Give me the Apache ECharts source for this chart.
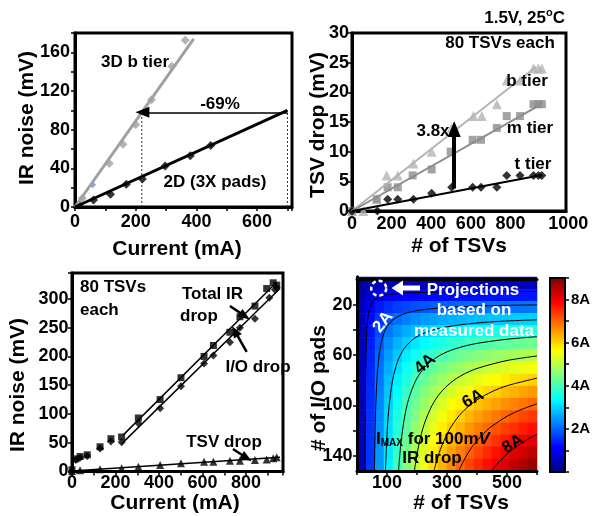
<!DOCTYPE html>
<html><head><meta charset="utf-8">
<script src="https://cdn.jsdelivr.net/npm/echarts@6/dist/echarts.min.js"></script>
<style>html,body{margin:0;padding:0;background:#fff}#c{width:604px;height:516px}</style>
</head><body><div id="c"></div>
<script>
// ---------- Panel 1: IR noise vs current ----------
const p1Pts3D = [[24,9],[113,45],[158,65],[200,85],[252,111],[319,145.5],[363,172.5]];
const p1PtBlue = [[58,23]];
const p1Pts2D = [[13,2],[61,7.3],[117,13.1],[169,23.5],[222,29],[297,42.5],[380,53],[447,63.6]];
const p1Fit3D = [[0,0],[391,174]];
const p1Fit2D = [[0,0],[700,100]];
const p1GuideA = [[220,0],[220,98]];
const p1GuideB = [[700,0],[700,100]];
const p1Arrow = [[700,98],[222,98]];
const p1XLabels = [0,200,400,600];
const p1YLabels = [0,40,80,120,160];

// ---------- Panel 2: TSV drop vs # of TSVs ----------
const p2B = [[0,0],[57,0],[125,2],[175,6],[231,6],[310,8],[402,10],[503,14],[613,16],[655,16],[731,18],[781,22],[848,22],[916,24],[941,24],[958,24]];
const p2M = [[0,0],[125,2],[180,4],[231,4],[306,6],[402,7],[498,10],[609,12],[651,12],[731,14],[781,16],[848,16],[916,18],[941,18],[958,18]];
const p2T = [[0,0],[128,0],[180,2],[231,2],[310,2],[402,3],[503,4],[609,4],[651,4],[731,4],[781,6],[848,6],[916,6],[941,6],[958,6]];
const p2FitB = [[0,0],[930,24.3]];
const p2FitM = [[0,0],[945,17.8]];
const p2FitT = [[0,0],[945,6]];
const p2Arrow = [[516,3.8],[516,13.8]];
const p2XLabels = [0,200,400,600,800,1000];

// ---------- Panel 3: IR noise components vs current ----------
const p3Total = [[0,3],[18,22],[37,26],[70,29],[129,43],[179,57],[228,60],[305,93],[405,125],[501,163],[607,200],[650,219],[726,242],[772,269],[841,287.5],[895,318],[925,328],[941,324]];
const p3IO = [[0,1],[18,20],[37,24],[70,27],[129,40],[179,52],[228,51],[305,84],[405,110],[501,148],[607,187.5],[650,201.5],[726,224.7],[772,250],[841,265.5],[907,302],[933,316],[941,320]];
const p3TSV = [[0,1],[37,2],[129,3.8],[228,5.5],[305,8.4],[405,11.3],[501,14.2],[607,17],[650,17],[726,18.9],[772,18.9],[841,20],[895,21],[925,23],[941,24.7]];
const p3FitTotal = [[236,63.7],[941,329]];
const p3FitIO = [[228,48],[956,318]];
const p3FitTSV = [[0,1],[956,24.7]];
const p3ArrowTotal = [[726,287.6],[795,270]];
const p3ArrowIO = [[803,208],[749,244]];
const p3ArrowTSV = [[740,39],[803,23.5]];

// ---------- Panel 4: I_MAX map (A) over # of TSVs x # of I/O pads ----------
const tsvCenters = [15,45,75,105,135,165,195,225,255,285,315,345,375,405,435,465,495,525,555,585];
const padCenters = [3,12,22,32,41,51,61,70,80,89,99,109,118,128,138,147];
const currentGrid = [
[0.29,0.42,0.47,0.49,0.50,0.51,0.52,0.52,0.52,0.53,0.53,0.53,0.53,0.53,0.54,0.54,0.54,0.54,0.54,0.54],
[0.42,0.78,0.94,1.03,1.09,1.13,1.16,1.18,1.20,1.22,1.23,1.24,1.25,1.26,1.26,1.27,1.28,1.28,1.28,1.29],
[0.48,1.03,1.33,1.52,1.66,1.76,1.83,1.89,1.94,1.98,2.01,2.04,2.06,2.08,2.10,2.12,2.13,2.15,2.16,2.17],
[0.51,1.18,1.59,1.88,2.09,2.24,2.37,2.47,2.55,2.62,2.68,2.73,2.77,2.81,2.84,2.88,2.90,2.93,2.95,2.97],
[0.53,1.28,1.78,2.15,2.42,2.64,2.81,2.95,3.07,3.17,3.25,3.33,3.39,3.45,3.50,3.55,3.59,3.63,3.66,3.70],
[0.54,1.35,1.92,2.35,2.69,2.96,3.18,3.36,3.51,3.64,3.76,3.86,3.95,4.03,4.10,4.16,4.22,4.27,4.32,4.36],
[0.55,1.40,2.03,2.52,2.91,3.22,3.49,3.71,3.90,4.06,4.20,4.33,4.44,4.54,4.63,4.71,4.78,4.85,4.91,4.97],
[0.55,1.44,2.12,2.66,3.09,3.45,3.75,4.01,4.23,4.43,4.60,4.75,4.88,5.00,5.11,5.21,5.30,5.38,5.46,5.53],
[0.56,1.47,2.19,2.77,3.25,3.65,3.98,4.28,4.53,4.75,4.95,5.12,5.28,5.42,5.55,5.66,5.77,5.87,5.96,6.04],
[0.56,1.50,2.25,2.87,3.38,3.82,4.19,4.51,4.79,5.04,5.26,5.46,5.64,5.80,5.95,6.08,6.21,6.32,6.43,6.52],
[0.57,1.52,2.30,2.95,3.50,3.96,4.36,4.72,5.03,5.30,5.55,5.77,5.97,6.15,6.31,6.46,6.61,6.73,6.85,6.96],
[0.57,1.54,2.35,3.02,3.60,4.09,4.52,4.90,5.24,5.54,5.81,6.05,6.27,6.47,6.65,6.82,6.98,7.12,7.26,7.38],
[0.57,1.56,2.38,3.08,3.69,4.21,4.67,5.07,5.43,5.75,6.04,6.31,6.54,6.77,6.96,7.15,7.32,7.48,7.63,7.76],
[0.57,1.57,2.42,3.14,3.77,4.31,4.80,5.22,5.61,5.95,6.26,6.54,6.80,7.04,7.26,7.46,7.65,7.82,7.98,8.13],
[0.57,1.58,2.45,3.19,3.84,4.41,4.91,5.36,5.77,6.13,6.46,6.76,7.04,7.29,7.52,7.74,7.94,8.13,8.31,8.47],
[0.58,1.60,2.47,3.23,3.90,4.49,5.02,5.49,5.91,6.30,6.64,6.96,7.26,7.53,7.78,8.01,8.22,8.42,8.61,8.79]
];
const contour1A = [[26.9,152],[27.8,100],[29.8,60],[32.7,40],[36.2,30],[39.7,25],[46.3,20],[54.2,17],[64.1,15],[83.9,13],[104,12],[150,10.9],[200,10.4],[300,9.9],[400,9.7],[600,9.5]];
const contour2A = [[58,152],[62.5,100],[69.2,70],[80.6,50],[94.3,40],[107.3,35],[131.6,30],[159.6,27],[200,24.7],[250,23.1],[300,22.1],[400,21.1],[500,20.5],[600,20.1]];
const contour3A = [[94.7,152],[100.7,120],[107.2,100],[118.6,80],[135.3,65],[156.5,55],[184.1,48],[210.4,44],[250,40.3],[300,37.5],[400,34.5],[500,32.9],[600,32]];
const contour4A = [[138.3,152],[146.4,130],[158,110],[172.1,95],[196.1,80],[224.4,70],[257.5,63],[300,57.4],[350,53.4],[400,50.7],[500,47.4],[600,45.4]];
const contour5A = [[191.1,152],[207,130],[223.8,115],[250,100],[277.8,90],[311.7,82],[350,75.9],[400,70.6],[500,64.3],[600,60.7]];
const contour6A = [[256.4,152],[277.8,135],[306,120],[340.6,108],[374.8,100],[400,95.5],[450,89],[500,84.3],[600,78.3]];
const contour7A = [[339.2,152],[364.4,140],[392.5,130],[431.8,120],[450,116.4],[500,108.6],[550,103],[600,98.7]];
const contour8A = [[448,152],[472.6,145],[502,138],[520,134.5],[550,129.5],[600,122.8]];
const contours = [contour1A,contour2A,contour3A,contour4A,contour5A,contour6A,contour7A,contour8A];
const padTicks = [20,40,60,80,100,120,140];
const padLabels = [20,60,100,140];
const colorbarLabels = [2,4,6,8];
const jet = ['#000080','#0000ff','#0080ff','#00ffff','#80ff80','#ffff00','#ff8000','#ff0000','#800000'];

// ---------- helpers ----------
const FONT = '"Liberation Sans", Arial, Helvetica, sans-serif';
function merge(a, b) {
  const o = Object.assign({}, a);
  for (const k in b) {
    if (b[k] && typeof b[k] === 'object' && !Array.isArray(b[k]) && a[k] && typeof a[k] === 'object') o[k] = merge(a[k], b[k]);
    else o[k] = b[k];
  }
  return o;
}
const baseAxis = {
  type: 'value',
  axisLine: {show: true, onZero: false, lineStyle: {color: '#000', width: 3}},
  axisTick: {show: true, inside: false, length: 4, lineStyle: {color: '#000', width: 1.5}},
  splitLine: {show: false},
  axisLabel: {color: '#000', fontFamily: FONT, fontWeight: 'bold', fontSize: 18}
};
const ax = (extra) => merge(baseAxis, extra);
const hiddenAxis = (extra) => Object.assign({type: 'value', show: false}, extra);
const frameAxis = (extra) => Object.assign({type: 'value', min: 0, max: 1, z: 10,
  axisLine: {show: true, lineStyle: {color: '#000', width: 3}}, axisTick: {show: false},
  axisLabel: {show: false}, splitLine: {show: false}}, extra);
const inList = (list) => (v) => list.indexOf(v) >= 0 ? String(v) : '';

function lineS(data, xi, color, width, extra) {
  return Object.assign({type: 'line', xAxisIndex: xi, yAxisIndex: xi, data: data, symbol: 'none',
    silent: true, animation: false, lineStyle: {color: color, width: width}}, extra || {});
}
function scatS(data, xi, symbol, size, color) {
  return {type: 'scatter', xAxisIndex: xi, yAxisIndex: xi, data: data, symbol: symbol, symbolSize: size,
    silent: true, animation: false, itemStyle: {color: color}};
}
function arrowML(pairs, width, size) {
  return {silent: true, animation: false, symbol: ['none', 'triangle'], symbolSize: size,
    label: {show: false}, lineStyle: {color: '#000', width: width, type: 'solid'},
    data: pairs.map(p => [{coord: p[0]}, {coord: p[1]}])};
}

const heatData = [];
currentGrid.forEach((row, r) => row.forEach((v, c) => heatData.push([c, r, v])));

// ---------- option ----------
const grids = [
  {left: 75, top: 33, width: 217, height: 174},
  {left: 352, top: 33, width: 214, height: 178},
  {left: 72, top: 273, width: 211, height: 198.5},
  {left: 357, top: 277, width: 180, height: 194},
  {left: 357, top: 277, width: 180, height: 194},
  {left: 550, top: 278, width: 15, height: 194}
].map((g, i) => Object.assign({outerBoundsMode: 'none', containLabel: false,
  show: i < 3, borderColor: '#000', borderWidth: 3, backgroundColor: 'transparent'}, g));

const xAxes = [
  ax({gridIndex: 0, min: 0, max: 715, interval: 100, axisLabel: {margin: 6, formatter: inList(p1XLabels)}}),
  ax({gridIndex: 1, min: 0, max: 1080, interval: 200, axisTick: {show: false}, axisLabel: {margin: 4,
      formatter: (v) => v === 1000 ? '{r|1000}' : inList(p2XLabels)(v),
      rich: {r: {fontFamily: FONT, fontWeight: 'bold', fontSize: 18, color: '#000', padding: [0, 0, 0, 36]}}}}),
  ax({gridIndex: 2, min: 0, max: 970, interval: 100, axisLabel: {margin: 2.5, formatter: inList([0,200,400,600,800])}}),
  {type: 'category', gridIndex: 3, data: tsvCenters.map(String), show: false},
  ax({gridIndex: 4, min: 0, max: 600, interval: 100, z: 10, axisLabel: {margin: 3, formatter: inList([100,300,500])}}),
  frameAxis({gridIndex: 4, position: 'top'}),
  hiddenAxis({gridIndex: 5, min: 0, max: 1})
];
const yAxes = [
  ax({gridIndex: 0, min: 0, max: 180, interval: 20, axisLabel: {margin: 5, formatter: inList(p1YLabels)}}),
  ax({gridIndex: 1, min: 0, max: 30, interval: 5, axisLabel: {margin: 3}}),
  ax({gridIndex: 2, min: 0, max: 345, interval: 50, axisLabel: {margin: 3.5, formatter: inList([0,50,100,150,200,250,300])}}),
  {type: 'category', gridIndex: 3, data: padCenters.map(String), inverse: true, show: false},
  ax({gridIndex: 4, min: -2, max: 152, inverse: true, z: 10,
      axisTick: {customValues: padTicks}, axisLabel: {margin: 4.5, customValues: padLabels}}),
  frameAxis({gridIndex: 4, position: 'right'}),
  ax({gridIndex: 5, min: 0, max: 9, interval: 1, position: 'right', z: 10,
      axisLine: {show: false}, axisTick: {length: 4, lineStyle: {width: 1.5}},
      axisLabel: {margin: 6, fontSize: 15, formatter: (v) => colorbarLabels.indexOf(v) >= 0 ? v + 'A' : ''}})
];

const series = [
  lineS(p1Fit3D, 0, '#a0a0a0', 3),
  lineS(p1Fit2D, 0, '#000', 3, {markLine: arrowML([p1Arrow], 1.5, [11, 14])}),
  lineS(p1GuideA, 0, '#333', 1, {lineStyle: {color: '#333', width: 1, type: [2, 2]}}),
  lineS(p1GuideB, 0, '#333', 1, {lineStyle: {color: '#333', width: 1, type: [2, 2]}}),
  scatS(p1Pts3D, 0, 'diamond', 9, '#a0a0a0'),
  scatS(p1PtBlue, 0, 'diamond', 7, '#6b93d6'),
  scatS(p1Pts2D, 0, 'diamond', 9, '#000'),

  lineS(p2FitB, 1, '#b4b4b4', 2),
  lineS(p2FitM, 1, '#8c8c8c', 2),
  lineS(p2FitT, 1, '#000', 2, {markLine: arrowML([p2Arrow], 4, [13, 16])}),
  scatS(p2B, 1, 'triangle', 10, '#b4b4b4'),
  scatS(p2M, 1, 'rect', 8, '#8c8c8c'),
  scatS(p2T, 1, 'diamond', 9, '#000'),

  lineS(p3FitTotal, 2, '#000', 1.5),
  lineS(p3FitIO, 2, '#000', 1.5),
  lineS(p3FitTSV, 2, '#000', 1.5, {markLine: arrowML([p3ArrowTotal, p3ArrowIO, p3ArrowTSV], 2.5, [9, 12])}),
  scatS(p3Total, 2, 'rect', 7, '#000'),
  scatS(p3IO, 2, 'diamond', 8, '#000'),
  scatS(p3TSV, 2, 'triangle', 8, '#000')
];
const heatIndex = series.length;
series.push({type: 'heatmap', xAxisIndex: 3, yAxisIndex: 3, data: heatData, silent: true, animation: false,
  progressive: 0, emphasis: {disabled: true}});
contours.forEach(c => series.push(lineS(c, 4, '#000', 1, {smooth: 0.3, clip: true})));

function T(text, x, y, size, o) {
  o = o || {};
  return {type: 'text', x: x, y: y, rotation: o.rot || 0, z: 50, silent: true,
    style: {text: text, fill: o.color || '#000', font: 'bold ' + size + 'px ' + FONT,
      align: o.align || 'center', verticalAlign: 'middle', rich: o.rich}};
}
const R90 = Math.PI / 2;
const graphic = [
  // axis titles
  T('IR noise (mV)', 27, 118, 21, {rot: R90}),
  T('Current (mA)', 177, 249, 21),
  T('TSV drop (mV)', 318, 125, 21, {rot: R90}),
  T('# of TSVs', 459, 246, 21),
  T('IR noise (mV)', 18, 385, 21, {rot: R90}),
  T('Current (mA)', 175, 503, 21),
  T('# of I/O pads', 319, 388, 21, {rot: R90}),
  T('# of TSVs', 461, 503, 21),
  // panel 1
  T('3D b tier', 135, 62, 17),
  T('-69%', 220, 104, 17),
  T('2D (3X pads)', 215, 182, 17),
  // panel 2
  T('{n|1.5V, 25}{s|o}{n|C}', 565, 17, 17, {align: 'right', rich: {
    n: {fontSize: 17, fontWeight: 'bold', fontFamily: FONT, fill: '#000', verticalAlign: 'bottom', lineHeight: 20},
    s: {fontSize: 11, fontWeight: 'bold', fontFamily: FONT, fill: '#000', verticalAlign: 'top', lineHeight: 20}}}),
  T('80 TSVs each', 500, 43, 17),
  T('b tier', 527, 81, 17),
  T('m tier', 530, 128, 17),
  T('t tier', 533, 164, 17),
  T('3.8x', 433, 131, 17),
  // panel 3
  T('80 TSVs', 80, 287.5, 17, {align: 'left'}),
  T('each', 80, 310, 17, {align: 'left'}),
  T('Total IR', 212.5, 294, 17),
  T('drop', 199, 316, 17),
  T('I/O drop', 258, 367.5, 17),
  T('TSV drop', 224, 442, 17),
  // panel 4
  T('Projections', 473, 290, 17, {color: '#fff'}),
  T('based on', 474, 310, 17, {color: '#fff'}),
  T('measured data', 474, 331, 17, {color: '#fff'}),
  T('{a|I}{b|MAX}{a| for 100m}{c|V}', 433, 438, 17, {rich: {
    a: {fontSize: 17, fontWeight: 'bold', fontFamily: FONT, fill: '#000', verticalAlign: 'bottom', lineHeight: 20},
    b: {fontSize: 10, fontWeight: 'bold', fontFamily: FONT, fill: '#000', verticalAlign: 'bottom', lineHeight: 16},
    c: {fontSize: 17, fontWeight: 'bold', fontStyle: 'italic', fontFamily: FONT, fill: '#000', verticalAlign: 'bottom', lineHeight: 20}}}),
  T('IR drop', 432, 458, 17),
  T('2A', 383, 322, 17, {color: '#fff', rot: 0.9}),
  T('4A', 425, 364, 17, {rot: 0.7}),
  T('6A', 473, 399, 17, {rot: 0.5}),
  T('8A', 513, 444, 17, {rot: 0.55}),
  {type: 'circle', z: 50, silent: true, shape: {cx: 378.7, cy: 288.3, r: 7.5},
    style: {fill: 'none', stroke: '#fff', lineWidth: 2.5, lineDash: [4, 3]}},
  {type: 'line', z: 50, silent: true, shape: {x1: 401, y1: 288, x2: 420, y2: 288},
    style: {stroke: '#fff', lineWidth: 5}},
  {type: 'polygon', z: 50, silent: true, shape: {points: [[391.5, 288], [403, 280.5], [403, 295.5]]},
    style: {fill: '#fff'}},
  // colorbar frame
  {type: 'rect', z: 60, silent: true, shape: {x: 550, y: 278, width: 15, height: 194},
    style: {fill: 'none', stroke: '#000', lineWidth: 2}}
];

const option = {
  animation: false,
  backgroundColor: '#fff',
  grid: grids,
  xAxis: xAxes,
  yAxis: yAxes,
  visualMap: {type: 'continuous', seriesIndex: heatIndex, min: 0, max: 9, calculable: false,
    orient: 'vertical', left: 550, top: 278, itemWidth: 15, itemHeight: 194, padding: 0,
    hoverLink: false, inRange: {color: jet}},
  series: series,
  graphic: graphic
};
const chart = echarts.init(document.getElementById('c'), null, {renderer: 'canvas'});
chart.setOption(option);
</script></body></html>
